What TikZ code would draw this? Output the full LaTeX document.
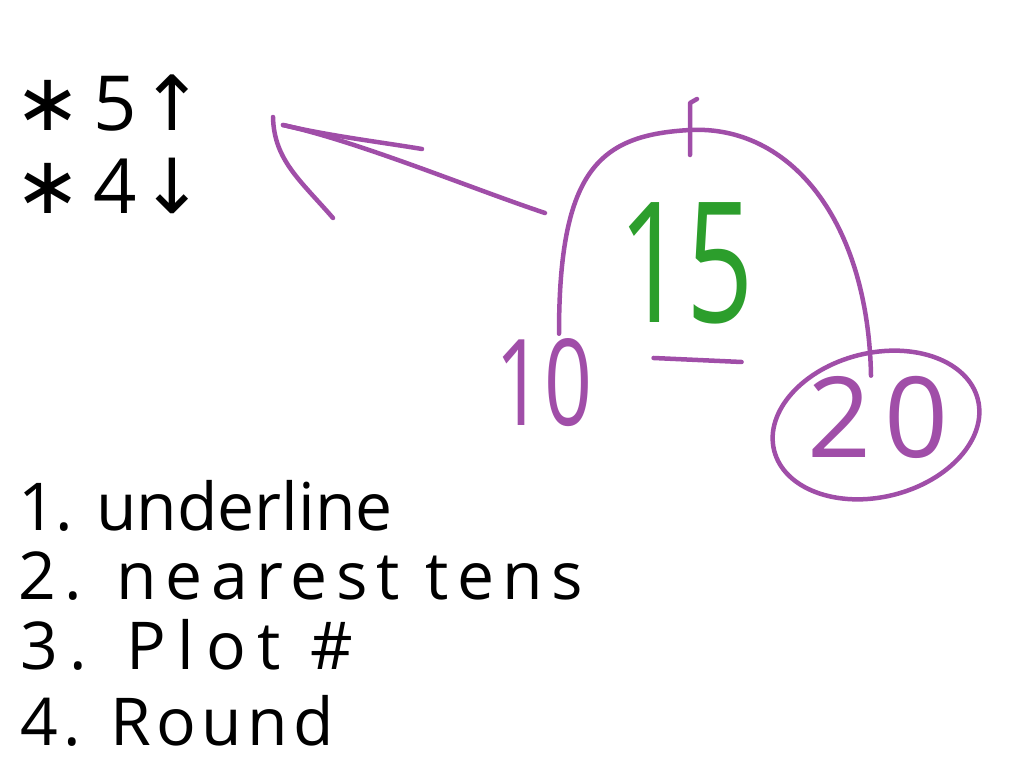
\documentclass[tikz,border=0pt]{standalone}
\usepackage{fontspec}
\setmainfont{Open Sans}
\newfontfamily\symfont{DejaVu Sans}
\newfontfamily\slimfont[FakeStretch=0.7]{Open Sans}
\usetikzlibrary{positioning}

\definecolor{inkpurple}{RGB}{160,78,168}
\definecolor{inkgreen}{RGB}{44,158,44}

\begin{document}
\begin{tikzpicture}[x=1pt, y=-1pt, line cap=round, line join=round,
	step list/.style={anchor=base west, inner sep=0pt,
		font=\fontsize{66}{66}\selectfont\addfontfeature{LetterSpace=#1}},
	step list/.default=0]
	\tikzstyle{pen}=[draw=inkpurple, line width=4.5pt]
	\tikzstyle{rule}=[anchor=base west, inner sep=0pt, font=\fontsize{76}{76}\selectfont]
	\tikzstyle{num}=[inner sep=0pt, text=inkpurple]
	\useasboundingbox (0,0) rectangle (1024,768);
	% % Nodes
	% rules for rounding
	\node[rule] (up) at (14,130)
	{{\symfont\fontsize{80}{80}\selectfont ∗}\hspace{12pt}5\hspace{4pt}{\symfont ↑}};
	\node[rule] (down) at (14,213)
	{{\symfont\fontsize{80}{80}\selectfont ∗}\hspace{12pt}4\hspace{4pt}{\symfont ↓}};
	% number line
	\node[num, font=\slimfont\fontsize{120}{120}\selectfont] (ten) at (544,383) {10};
	\node[inner sep=0pt, text=inkgreen, font=\slimfont\fontsize{168}{168}\selectfont]
	(fifteen) at (686,263) {15};
	\node[num, font=\fontsize{112}{112}\selectfont\addfontfeature{LetterSpace=12}]
	(twenty) at (878,417) {20};
	% steps
	\node[step list] (one) at (18,530) {1. underline};
	\node[step list=13] (two) at (18,599) {2. nearest tens};
	\node[step list=18] (three) at (20,669) {3. Plot \#};
	\node[step list=8] (four) at (20,745) {4. Round};
	% % Connectors
	% hop from 10 over 15 to 20
	\draw[pen] ([xshift=15pt,yshift=5pt]ten.north)
		.. controls +(0,-165) and (600,135) .. (690,130) coordinate (peak)
		.. controls (790,125) and (868,220) .. ([xshift=-7pt]twenty.north);
	\draw[pen] ([yshift=-25pt]peak) -- ([yshift=27pt]peak) -- ++(7,-4);
	% underline the 15
	\draw[pen] ([shift={(35,34)}]fifteen.south west) -- ++(88,4);
	% circle the answer
	\draw[pen] (twenty.center) ++(-2,8) ellipse [x radius=105, y radius=72, rotate=14];
	% arrow to the rules
	\coordinate (tail) at (545,213);
	\coordinate (tip) at (283,125);
	\draw[pen] (tail) .. controls (470,188) and (360,142) .. (tip);
	\draw[pen] (tip) .. controls (330,136) and (380,142) .. (422,149);
	\draw[pen] ([shift={(-10,-8)}]tip) .. controls (274,160) and (300,180) .. (333,218);
\end{tikzpicture}
\end{document}
